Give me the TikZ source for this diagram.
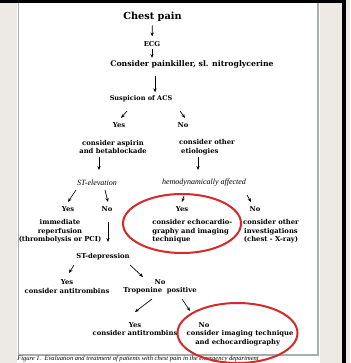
\documentclass[tikz,border=0pt]{standalone}
\usepackage{fontspec}
\setmainfont{DejaVu Serif}
\newfontfamily\capfont{Liberation Serif}
\usetikzlibrary{arrows.meta}
\definecolor{bgbeige}{HTML}{EDEAE3}
\definecolor{boxgray}{HTML}{A8AEAE}
\definecolor{ringred}{HTML}{D42A2A}
\begin{document}
\begin{tikzpicture}[x=0.75pt,y=-0.75pt,
 txt/.style={font=\fontsize{5.1}{6.4}\selectfont\bfseries, inner sep=0.5pt},
 ital/.style={font=\capfont\fontsize{6}{6.5}\selectfont\itshape, inner sep=0.5pt},
 arr/.style={-{Stealth[length=3pt,width=2.4pt]}, line width=0.5pt},
 ring/.style={draw=ringred, line width=1.5pt}]
\useasboundingbox (0,0) rectangle (350,363);
\fill[bgbeige] (0,0) rectangle (350,363);
\fill[white] (17,3) rectangle (320,363);
\fill[black] (0,0) rectangle (346,3);
\fill[black] (342,0) rectangle (345.5,363);
\draw[boxgray, line width=1pt] (18.5,3) -- (18.5,355) -- (318,355) -- (318,3);

\node[font=\capfont\fontsize{4.9}{5}\selectfont\itshape, anchor=west, inner sep=0pt] (cap) at (17,359) {Figure 1.\ \ Evaluation and treatment of patients with chest pain in the emergency department};

\node[font=\fontsize{7.3}{8}\selectfont\bfseries, inner sep=0.5pt] (chest) at (152.5,17) {Chest pain};
\node[txt] (ecg) at (152,44) {ECG};
\node[txt, font=\fontsize{5.8}{6.4}\selectfont\bfseries] (pain) at (192,64) {Consider painkiller, sl. nitroglycerine};
\node[txt, font=\fontsize{4.9}{6.4}\selectfont\bfseries] (acs) at (141,99) {Suspicion of ACS};
\node[txt] (yes1) at (119,125) {Yes};
\node[txt] (no1) at (183,125) {No};
\node[txt, align=center] (asp) at (113,147) {consider aspirin\\and betablockade};
\node[txt, align=left] (oth) at (207,147) {consider other\\\hspace*{1.5pt}etiologies};
\node[ital] (stel) at (97,183) {ST-elevation};
\node[ital] (hemo) at (204,183) {hemodynamically affected};
\node[txt] (yes2) at (68,209) {Yes};
\node[txt] (no2) at (107,209) {No};
\node[txt] (yes3) at (182,209) {Yes};
\node[txt] (no3) at (255,209) {No};
\node[txt, align=center] (rep) at (60,231.5) {immediate\\reperfusion\\(thrombolysis or PCI)};
\node[txt, align=left, anchor=west] (echo) at (151.5,231.5) {consider echocardio-\\graphy and imaging\\technique};
\node[txt, align=center] (inv) at (271,231.5) {consider other\\investigations\\(chest - X-ray)};
\node[txt] (std) at (103,257) {ST-depression};
\node[txt, align=center] (anti1) at (67,286.5) {Yes\\consider antitrombins};
\node[txt, align=center] (trop) at (160,286.5) {No\\Troponine\ \ positive};
\node[txt, align=center] (anti2) at (135,329) {Yes\\consider antitrombins};
\node[txt, align=left] (imag) at (240,334) {\hspace*{9pt}No\\consider imaging technique\\\hspace*{6.5pt}and echocardiography};

\draw[ring] (182,223.5) ellipse [x radius=59, y radius=29.5];
\draw[ring] (237.5,333) ellipse [x radius=60, y radius=30];

\draw[arr, shorten <=2pt, shorten >=3pt] (chest) -- (ecg);
\draw[arr, shorten <=1pt, shorten >=1pt] (ecg) -- (ecg |- pain.north);
\coordinate (a1) at (155,76);
\draw[arr, shorten >=2pt] (a1) -- (a1 |- acs.north);
\coordinate (a2s) at (127,111); \coordinate (a2e) at (121,118);
\draw[arr] (a2s) -- (a2e);
\coordinate (a3s) at (180,111); \coordinate (a3e) at (185,118);
\draw[arr] (a3s) -- (a3e);
\coordinate (a4s) at (99,157); \coordinate (a4e) at (99,170);
\draw[arr] (a4s) -- (a4e);
\coordinate (a5s) at (198,157); \coordinate (a5e) at (198,170);
\draw[arr] (a5s) -- (a5e);
\coordinate (a6s) at (76,190); \coordinate (a6e) at (68,202);
\draw[arr] (a6s) -- (a6e);
\coordinate (a7s) at (105,190); \coordinate (a7e) at (108,202);
\draw[arr] (a7s) -- (a7e);
\coordinate (a8s) at (184,196); \coordinate (a8e) at (182,202);
\draw[arr] (a8s) -- (a8e);
\coordinate (a9s) at (247,195); \coordinate (a9e) at (251,202);
\draw[arr] (a9s) -- (a9e);
\coordinate (a10s) at (108,222); \coordinate (a10e) at (108,242);
\draw[arr] (a10s) -- (a10e);
\coordinate (a11s) at (74,265); \coordinate (a11e) at (69,273);
\draw[arr] (a11s) -- (a11e);
\coordinate (a12s) at (130,265); \coordinate (a12e) at (143,277);
\draw[arr] (a12s) -- (a12e);
\coordinate (a13s) at (152,299); \coordinate (a13e) at (135,312);
\draw[arr] (a13s) -- (a13e);
\coordinate (a14s) at (182,299); \coordinate (a14e) at (190,311);
\draw[arr] (a14s) -- (a14e);
\end{tikzpicture}
\end{document}
